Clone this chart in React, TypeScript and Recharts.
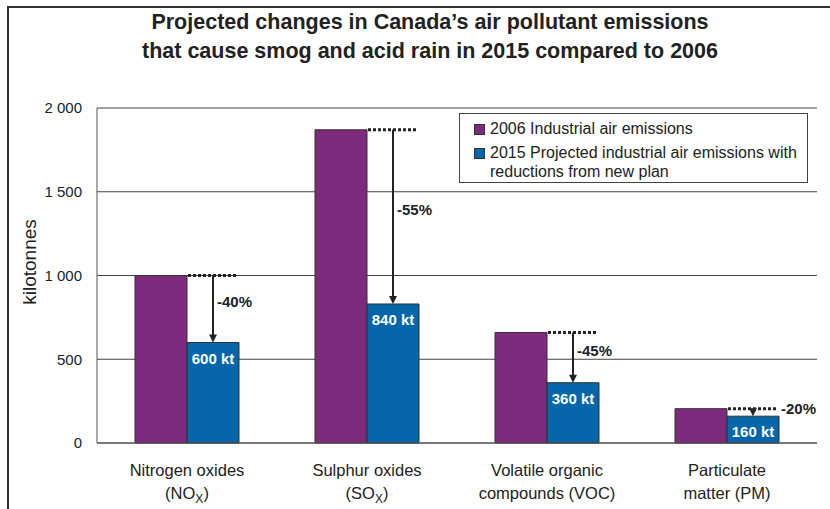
import { BarChart, Bar, XAxis, YAxis, CartesianGrid } from 'recharts';

const catLine1 = ['Nitrogen oxides', 'Sulphur oxides', 'Volatile organic', 'Particulate'];
const catLine2 = ['(NO_X)', '(SO_X)', 'compounds (VOC)', 'matter (PM)'];
const emissions2006 = [1000, 1870, 660, 205];
const emissions2015 = [600, 830, 360, 160];
const valueLabels = ['600 kt', '840 kt', '360 kt', '160 kt'];
const changeLabels = ['-40%', '-55%', '-45%', '-20%'];
const yTicks = [0, 500, 1000, 1500, 2000];

const PURPLE = '#7d2a7c';
const BLUE = '#0466a8';
const INK = '#222';
const FONT = '"Liberation Sans", Arial, sans-serif';

const data = catLine1.map((c, i) => ({
  name: c,
  v2006: emissions2006[i],
  v2015: emissions2015[i],
}));

const fmt = (v: number) => (v >= 1000 ? String(v).replace(/(\d)(\d{3})$/, '$1 $2') : String(v));

function CatTick(props: any) {
  const { x, y, payload, index } = props;
  const i = index ?? catLine1.indexOf(payload.value);
  const l2 = catLine2[i] || '';
  const parts = l2.split('_X');
  return (
    <g>
      <text x={x} y={y + 25} textAnchor="middle" fontSize={16.5} fill={INK} fontFamily={FONT}>
        {catLine1[i]}
      </text>
      <text x={x} y={y + 48} textAnchor="middle" fontSize={16.5} fill={INK} fontFamily={FONT}>
        {parts.length > 1 ? (
          <>
            <tspan>{parts[0]}</tspan>
            <tspan fontSize={12} dy={4}>X</tspan>
            <tspan dy={-4}>{parts[1]}</tspan>
          </>
        ) : (
          l2
        )}
      </text>
    </g>
  );
}

function renderChange(props: any) {
  const { x, y, width, height, index } = props;
  const bottom = y + height;
  const top06 = bottom - (height * emissions2006[index]) / emissions2015[index];
  const cx = x + width / 2;
  const gap = y - top06;
  const long = gap > 30;
  return (
    <g>
      <line x1={x + 1} x2={x + width - 2} y1={top06} y2={top06} stroke={INK} strokeWidth={3} strokeDasharray="3 2" />
      {gap > 8 && <line x1={cx} x2={cx} y1={top06} y2={y - 7} stroke={INK} strokeWidth={2} />}
      <polygon points={`${cx - 4},${y - 8} ${cx + 4},${y - 8} ${cx},${y}`} fill={INK} />
      <text
        x={long ? cx + 4 : x + width + 2}
        y={long ? (top06 + y) / 2 - 2 : top06 + 5}
        fontSize={15}
        fontWeight="bold"
        fill={INK}
        fontFamily={FONT}
      >
        {changeLabels[index]}
      </text>
      <text x={cx} y={y + 21} textAnchor="middle" fontSize={15} fontWeight="bold" fill="#fff" fontFamily={FONT}>
        {valueLabels[index]}
      </text>
    </g>
  );
}

export default function App() {
  return (
    <div style={{ position: 'absolute', left: 0, top: 0, width: 830, height: 509, overflow: 'hidden', background: '#fff', fontFamily: FONT }}>
      <div style={{ position: 'absolute', left: 7, top: 6, width: 840, height: 520, border: '2px solid #333' }} />
      <div style={{ position: 'absolute', left: 0, top: 8, width: 860, textAlign: 'center', fontSize: 21.5, fontWeight: 'bold', lineHeight: '29px', color: INK }}>
        Projected changes in Canada’s air pollutant emissions
        <br />
        that cause smog and acid rain in 2015 compared to 2006
      </div>
      <div style={{ position: 'absolute', left: 30, top: 262, transform: 'translate(-50%, -50%) rotate(-90deg)', fontSize: 19, color: INK, whiteSpace: 'nowrap' }}>
        kilotonnes
      </div>
      <div style={{ position: 'absolute', left: 0, top: 0 }}>
        <BarChart width={830} height={509} data={data} margin={{ top: 108, right: 13, bottom: 36, left: 0 }} barCategoryGap={38} barGap={0}>
          <CartesianGrid vertical={false} stroke="#444" />
          <XAxis dataKey="name" tick={<CatTick />} tickLine={false} axisLine={{ stroke: '#555' }} interval={0} />
          <YAxis
            width={97}
            domain={[0, 2000]}
            ticks={yTicks}
            tickFormatter={fmt}
            tickLine={false}
            axisLine={{ stroke: '#555' }}
            tickMargin={9}
            tick={{ fontSize: 15, fill: INK, fontFamily: FONT }}
          />
          <YAxis yAxisId="frame" orientation="right" width={0} tick={false} tickLine={false} axisLine={{ stroke: '#555' }} />
          <Bar dataKey="v2006" fill={PURPLE} stroke="#333" strokeWidth={1} isAnimationActive={false} />
          <Bar dataKey="v2015" fill={BLUE} stroke="#333" strokeWidth={1} isAnimationActive={false} label={renderChange} />
        </BarChart>
      </div>
      <div style={{ position: 'absolute', left: 459, top: 113, width: 349, height: 70, border: '1px solid #444', background: '#fff', fontSize: 16, color: INK, boxSizing: 'border-box' }}>
        <div style={{ position: 'absolute', left: 14, top: 6, display: 'flex', alignItems: 'center' }}>
          <span style={{ width: 11, height: 11, background: PURPLE, border: '1px solid #333', boxSizing: 'border-box', marginRight: 5 }} />
          <span>2006 Industrial air emissions</span>
        </div>
        <div style={{ position: 'absolute', left: 14, top: 29, display: 'flex', alignItems: 'flex-start' }}>
          <span style={{ width: 11, height: 11, background: BLUE, border: '1px solid #333', boxSizing: 'border-box', marginRight: 5, marginTop: 5 }} />
          <span style={{ lineHeight: '19px' }}>
            2015 Projected industrial air emissions with
            <br />
            reductions from new plan
          </span>
        </div>
      </div>
    </div>
  );
}
